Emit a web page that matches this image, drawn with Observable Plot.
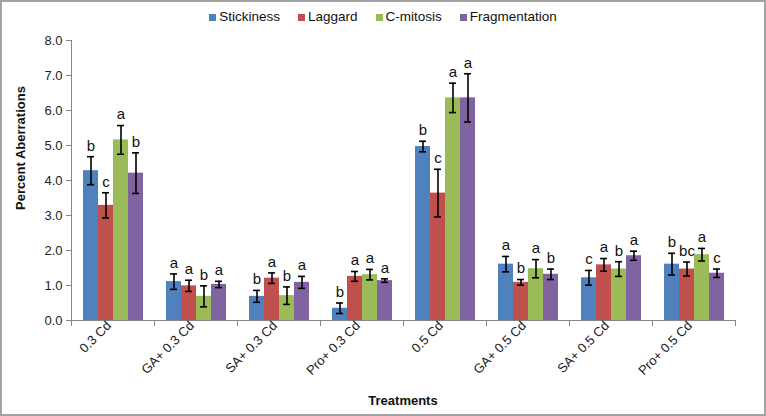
<!DOCTYPE html>
<html>
<head>
<meta charset="utf-8">
<script src="https://cdn.jsdelivr.net/npm/d3@7"></script>
<script src="https://cdn.jsdelivr.net/npm/@observablehq/plot@0.6"></script>
<style>
  body { margin: 0; background: #fff; font-family: "Liberation Sans", Arial, sans-serif; }
  #wrap { position: relative; width: 766px; height: 416px; overflow: hidden; background: #fff; }
  #chart { position: absolute; left: 0; top: 0; }
  #border { position: absolute; left: 0; top: 0; width: 766px; height: 416px; box-sizing: border-box;
            border: 2px solid #a3a3a3; pointer-events: none; }
  #legend { position: absolute; top: 9px; left: 0; width: 766px; display: flex; justify-content: center;
            font-size: 13.5px; color: #111; line-height: 16px; }
  .item { display: flex; align-items: center; margin: 0 9px; }
  .sw { width: 7px; height: 7px; margin-right: 3px; }
  #ytitle { position: absolute; left: 20px; top: 148px; transform: translate(-50%, -50%) rotate(-90deg);
            font-weight: bold; font-size: 13px; white-space: nowrap; color: #111; }
  #xtitle { position: absolute; left: 403px; top: 400px; transform: translate(-50%, -50%);
            font-weight: bold; font-size: 13px; white-space: nowrap; color: #111; }
</style>
</head>
<body>
<div id="wrap">
  <div id="chart"></div>
  <div id="legend"></div>
  <div id="ytitle">Percent Aberrations</div>
  <div id="xtitle">Treatments</div>
  <div id="border"></div>
</div>
<script>
const treatments = ["0.3 Cd", "GA+ 0.3 Cd", "SA+ 0.3 Cd", "Pro+ 0.3 Cd", "0.5 Cd", "GA+ 0.5 Cd", "SA+ 0.5 Cd", "Pro+ 0.5 Cd"];
const seriesNames = ["Stickiness", "Laggard", "C-mitosis", "Fragmentation"];
const colors = ["#4F81BD", "#C0504D", "#9BBB59", "#8064A2"];

const stickiness      = [4.28, 1.11, 0.69, 0.35, 4.97, 1.61, 1.22, 1.61];
const stickinessErr   = [0.40, 0.22, 0.17, 0.15, 0.15, 0.22, 0.21, 0.31];
const stickinessSig   = ["b", "a", "b", "b", "b", "a", "c", "b"];

const laggard         = [3.29, 0.99, 1.21, 1.26, 3.64, 1.09, 1.59, 1.47];
const laggardErr      = [0.36, 0.16, 0.15, 0.14, 0.68, 0.08, 0.18, 0.20];
const laggardSig      = ["c", "a", "a", "a", "c", "b", "a", "bc"];

const cmitosis        = [5.16, 0.69, 0.71, 1.31, 6.36, 1.48, 1.47, 1.88];
const cmitosisErr     = [0.41, 0.30, 0.25, 0.15, 0.42, 0.26, 0.21, 0.18];
const cmitosisSig     = ["a", "b", "b", "a", "a", "a", "b", "a"];

const fragmentation    = [4.21, 1.03, 1.09, 1.14, 6.36, 1.32, 1.85, 1.35];
const fragmentationErr = [0.58, 0.09, 0.17, 0.05, 0.69, 0.15, 0.13, 0.12];
const fragmentationSig = ["b", "a", "a", "a", "a", "b", "a", "c"];

const yTicks = [0, 1, 2, 3, 4, 5, 6, 7, 8];

const seriesData = [
  [stickiness, stickinessErr, stickinessSig],
  [laggard, laggardErr, laggardSig],
  [cmitosis, cmitosisErr, cmitosisSig],
  [fragmentation, fragmentationErr, fragmentationSig]
];

const rows = [];
treatments.forEach((t, i) => {
  seriesNames.forEach((s, j) => {
    const [v, e, l] = seriesData[j];
    rows.push({treatment: t, series: s, value: v[i], err: e[i], sig: l[i]});
  });
});

const axisGray = "#868686";

const chart = Plot.plot({
  width: 766,
  height: 416,
  marginLeft: 68,
  marginRight: 29,
  marginTop: 40,
  marginBottom: 96,
  style: {fontFamily: "'Liberation Sans', Arial, sans-serif", background: "transparent"},
  fx: {domain: treatments, padding: 0, label: null, axis: null},
  x: {domain: seriesNames, paddingInner: 0, paddingOuter: 0.73, axis: null},
  y: {domain: [0, 8], label: null, axis: null},
  color: {domain: seriesNames, range: colors},
  marks: [
    Plot.barY(rows, {fx: "treatment", x: "series", y: "value", fill: "series"}),
    Plot.ruleY([0], {stroke: axisGray, strokeWidth: 1}),
    Plot.frame({anchor: "left", facetAnchor: "left", stroke: axisGray}),
    Plot.frame({anchor: "left", stroke: axisGray, insetTop: 280, insetBottom: -5}),
    Plot.frame({anchor: "right", facetAnchor: "right", stroke: axisGray, insetTop: 280, insetBottom: -5}),
    Plot.axisY({ticks: yTicks, tickFormat: d => d.toFixed(1), tickSize: 5, tickPadding: 4,
                fontSize: 13, stroke: axisGray, fill: "#222", label: null}),
    Plot.axisFx({anchor: "bottom", tickRotate: -45, tickSize: 0, tickPadding: 3, dx: -4,
                 fontSize: 13, fill: "#222", label: null}),
    Plot.ruleX(rows, {fx: "treatment", x: "series", y1: d => d.value - d.err, y2: d => d.value + d.err,
                      stroke: "#000", strokeWidth: 1.6}),
    Plot.tickY(rows, {fx: "treatment", x: "series", y: d => d.value - d.err, stroke: "#000",
                      strokeWidth: 1.6, insetLeft: 4, insetRight: 4}),
    Plot.tickY(rows, {fx: "treatment", x: "series", y: d => d.value + d.err, stroke: "#000",
                      strokeWidth: 1.6, insetLeft: 4, insetRight: 4}),
    Plot.text(rows, {fx: "treatment", x: "series", y: d => d.value + d.err, text: "sig",
                     dy: -11, fontSize: 15, fill: "#111"})
  ]
});
document.getElementById("chart").appendChild(chart);

const legend = document.getElementById("legend");
seriesNames.forEach((s, j) => {
  const item = document.createElement("div");
  item.className = "item";
  const sw = document.createElement("span");
  sw.className = "sw";
  sw.style.background = colors[j];
  const label = document.createElement("span");
  label.textContent = s;
  item.appendChild(sw);
  item.appendChild(label);
  legend.appendChild(item);
});
</script>
</body>
</html>
